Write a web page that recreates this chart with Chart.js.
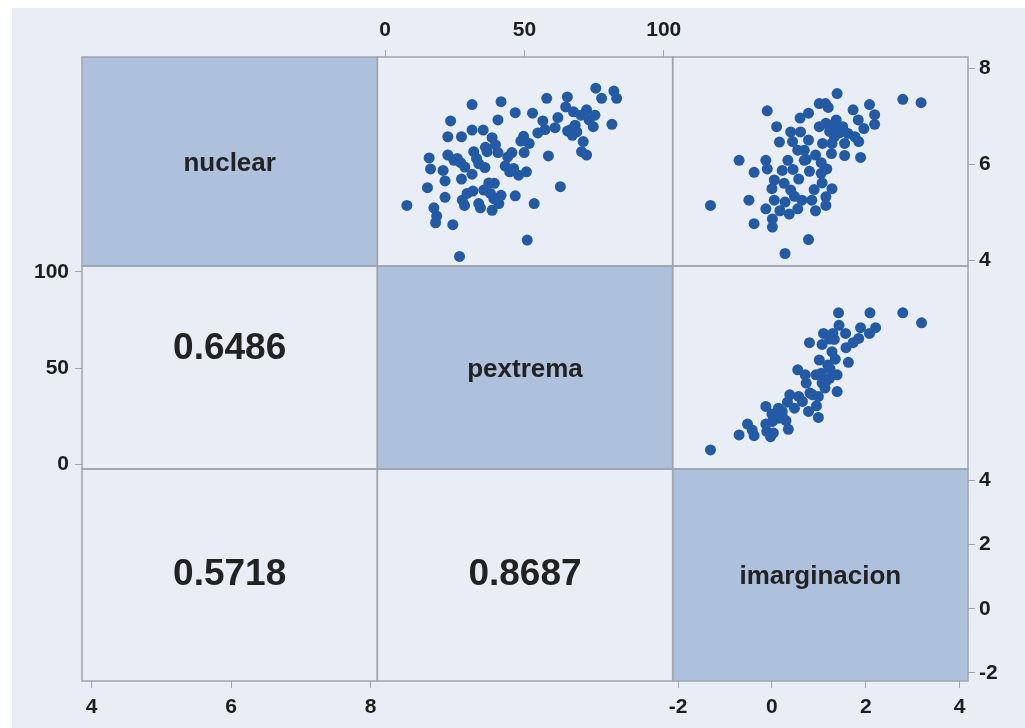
<!DOCTYPE html>
<html>
<head>
<meta charset="utf-8">
<script src="https://cdn.jsdelivr.net/npm/chart.js@4.4.1/dist/chart.umd.min.js"></script>
<style>
  html, body { margin: 0; padding: 0; background: #fff; }
  #wrap { width: 1025px; height: 728px; position: relative; }
</style>
</head>
<body>
<div id="wrap"><canvas id="matrix"></canvas></div>
<script>
const variables = ['nuclear', 'pextrema', 'imarginacion'];
// lower triangle: (pextrema, nuclear), (imarginacion, nuclear), (imarginacion, pextrema)
const correlations = ['0.6486', '0.5718', '0.8687'];

const nuclearTicks = [4, 6, 8];
const pextremaTicks = [0, 50, 100];
const imarginacionTicks = [-2, 0, 2, 4];

// [x, y] pairs
const pextremaNuclear = [
  [7.8,5.14],[15.2,5.51],[15.8,6.13],[16.3,5.90],[17.5,5.09],[18.5,4.92],[18.1,4.78],[20.8,5.87],[21.5,5.65],[21.5,5.31],
  [22.5,6.57],[22.5,6.19],[23.5,6.90],[24.3,4.74],[24.7,6.08],[25.9,6.12],[27.1,6.03],[27.4,5.69],[27.4,6.57],[28.6,5.94],
  [26.7,4.08],[27.7,5.25],[28.5,5.14],[29.4,5.39],[31.2,7.24],[31.2,6.71],[31.2,5.79],[31.5,5.44],[31.8,6.26],[32.8,6.12],
  [33.6,6.01],[33.6,5.18],[34.2,5.09],[35.2,6.71],[35.4,5.46],[35.8,5.93],[36.0,6.35],[36.6,6.26],[37.2,5.61],[37.8,5.39],
  [38.4,6.55],[39.0,5.28],[39.2,5.60],[39.6,6.40],[40.5,6.92],[40.5,6.24],[40.8,5.18],[38.4,5.04],[41.6,7.30],[41.6,5.35],
  [43.1,5.96],[44.0,6.15],[44.7,5.84],[45.5,6.24],[46.1,5.91],[46.7,7.07],[46.7,5.34],[47.9,5.77],[48.7,6.48],[49.7,6.58],
  [49.9,6.24],[50.7,5.84],[51.7,6.43],[51.0,4.42],[52.9,7.06],[53.5,5.18],[54.8,6.65],[56.6,6.90],[57.4,6.72],[58.0,7.37],
  [58.6,6.17],[61.0,6.76],[62.0,6.97],[62.9,5.53],[64.8,7.19],[65.4,7.40],[65.5,6.69],[66.7,6.72],[67.2,6.60],[67.6,7.09],
  [68.2,6.81],[68.8,6.67],[70.3,7.02],[70.5,6.26],[71.1,6.47],[72.3,7.13],[72.3,6.19],[73.2,6.92],[74.7,6.78],[75.3,7.02],
  [75.6,7.58],[77.7,7.37],[81.4,6.83],[82.1,7.52],[83.1,7.37]
];

const imarginacionNuclear = [
  [-1.31,5.14],[-0.70,6.08],[-0.49,5.25],[-0.38,5.83],[-0.38,4.76],[-0.13,6.08],[-0.10,7.11],[-0.10,5.90],[-0.13,5.07],[0.00,5.49],
  [0.01,4.86],[0.01,4.69],[0.05,5.25],[0.05,5.67],[0.10,6.78],[0.16,6.46],[0.17,5.03],[0.22,5.87],[0.26,5.60],[0.28,5.21],
  [0.28,4.14],[0.34,6.08],[0.37,4.96],[0.40,6.67],[0.40,5.46],[0.44,6.47],[0.45,5.89],[0.48,5.33],[0.55,6.29],[0.55,5.07],
  [0.57,5.69],[0.60,6.96],[0.61,6.67],[0.64,5.25],[0.69,6.29],[0.73,6.10],[0.78,7.06],[0.78,6.50],[0.78,4.43],[0.80,5.85],
  [0.85,5.25],[0.90,5.47],[0.93,6.19],[0.93,5.03],[1.01,7.26],[1.01,6.78],[1.05,5.81],[1.05,6.03],[1.07,5.61],[1.08,6.43],
  [1.14,7.26],[1.15,6.85],[1.17,5.90],[1.15,5.32],[1.15,5.14],[1.20,7.18],[1.23,6.68],[1.27,6.22],[1.28,6.43],[1.28,5.49],
  [1.33,6.57],[1.37,6.92],[1.39,7.47],[1.40,6.71],[1.51,6.78],[1.55,6.43],[1.55,6.18],[1.62,6.64],[1.73,7.13],[1.77,6.57],
  [1.84,6.92],[1.85,6.47],[1.89,6.14],[1.96,6.74],[2.08,7.24],[2.19,7.03],[2.19,6.83],[2.79,7.35],[3.18,7.28],[1.23,6.81],
  [1.44,6.65],[1.30,6.74],[0.69,6.08]
];

const imarginacionPextrema = [
  [-1.31,7.6],[-0.70,15.4],[-0.52,21.0],[-0.42,17.9],[-0.38,15.0],[-0.13,30.2],[-0.13,21.0],[-0.11,17.2],[-0.03,14.5],[0.03,16.4],
  [0.00,26.2],[0.14,29.3],[0.15,24.1],[0.22,25.0],[0.30,22.8],[0.35,18.3],[0.33,32.4],[0.38,36.2],[0.48,29.3],[0.55,49.2],
  [0.57,35.4],[0.65,32.8],[0.71,46.6],[0.73,42.3],[0.78,27.6],[0.81,37.1],[0.80,63.3],[0.95,30.5],[0.99,24.5],[0.99,35.4],
  [0.94,46.6],[1.01,54.3],[1.05,47.4],[1.07,42.3],[1.07,62.4],[1.10,68.1],[1.13,39.7],[1.19,51.7],[1.23,65.2],[1.24,49.7],
  [1.28,58.6],[1.30,68.1],[1.33,65.0],[1.35,54.7],[1.39,46.6],[1.39,37.9],[1.42,78.8],[1.43,72.3],[1.57,68.1],[1.58,60.7],
  [1.63,53.1],[1.73,63.3],[1.85,65.5],[1.89,71.1],[2.08,68.1],[2.09,78.8],[2.21,71.1],[2.79,78.8],[3.19,73.6],[1.15,43.1],
  [1.23,44.8],[0.87,36.2],[0.01,22.4],[0.22,27.6]
];

const toPoints = pairs => pairs.map(([x, y]) => ({ x, y }));

const tickFont = { family: "'Liberation Sans', Arial, sans-serif", size: 21, weight: 'bold' };
const gridStyle = { display: true, drawOnChartArea: false, drawTicks: true, tickLength: 7, color: '#9ea2a9', lineWidth: 1 };

// build one axis of the stacked matrix layout; axes without ticks are just placeholders
const axis = (position, stack, weight, stackWeight, size, range, ticks, padding) => {
  const opts = {
    type: 'linear',
    position, stack, weight, stackWeight,
    display: !!ticks,
    border: { display: false },
    grid: gridStyle,
    afterFit: scale => {
      if (scale.isHorizontal()) scale.height = size; else scale.width = size;
    }
  };
  if (ticks) {
    opts.min = range[0];
    opts.max = range[1];
    opts.afterBuildTicks = scale => { scale.ticks = ticks.map(v => ({ value: v })); };
    opts.ticks = { font: tickFont, color: '#1e1e1e', padding: padding, autoSkip: false, maxRotation: 0, minRotation: 0 };
  }
  return opts;
};

const rowWeights = [209, 203, 212];

const scales = {
  // columns, bottom
  xN:  axis('bottom', 'colsB', 0, 1, 47, [3.864, 8.096], nuclearTicks, 7),
  xPb: axis('bottom', 'colsB', 1, 1, 47),
  xI:  axis('bottom', 'colsB', 2, 1, 47, [-2.116, 4.18], imarginacionTicks, 7),
  // columns, top
  xNt: axis('top', 'colsT', 2, 1, 57),
  xP:  axis('top', 'colsT', 1, 1, 57, [-2.8, 103.2], pextremaTicks, 7),
  xIt: axis('top', 'colsT', 0, 1, 57),
  // rows, left
  yNl: axis('left', 'rowsL', 2, rowWeights[0], 82),
  yP:  axis('left', 'rowsL', 1, rowWeights[1], 82, [-2.3, 103.1], pextremaTicks, 6),
  yIl: axis('left', 'rowsL', 0, rowWeights[2], 82),
  // rows, right
  yN:  axis('right', 'rowsR', 0, rowWeights[0], 57, [3.88, 8.23], nuclearTicks, 4),
  yPr: axis('right', 'rowsR', 1, rowWeights[1], 57),
  yI:  axis('right', 'rowsR', 2, rowWeights[2], 57, [-2.25, 4.36], imarginacionTicks, 4)
};

const pointStyle = { pointRadius: 5.5, pointHoverRadius: 5.5, pointBackgroundColor: '#235aa8', pointBorderWidth: 0 };

// backgrounds, cell frames, variable names and correlations
const matrixFrame = {
  id: 'matrixFrame',
  beforeDraw(chart) {
    const { ctx, scales: s } = chart;
    const cols = [s.xN, s.xP, s.xI].map(a => [a.left, a.right]);
    const rows = [s.yN, s.yP, s.yI].map(a => [a.top, a.bottom]);
    ctx.save();
    ctx.fillStyle = '#e9edf5';
    ctx.fillRect(12, 8, chart.width - 12, chart.height - 8);

    ctx.fillStyle = '#adc1dd';
    for (let i = 0; i < 3; i++) {
      ctx.fillRect(cols[i][0], rows[i][0], cols[i][1] - cols[i][0], rows[i][1] - rows[i][0]);
    }

    ctx.strokeStyle = '#a0a4ab';
    ctx.lineWidth = 1.5;
    for (let r = 0; r < 3; r++) {
      for (let c = 0; c < 3; c++) {
        ctx.strokeRect(cols[c][0], rows[r][0], cols[c][1] - cols[c][0], rows[r][1] - rows[r][0]);
      }
    }

    const mid = (a) => (a[0] + a[1]) / 2;
    ctx.fillStyle = '#222';
    ctx.textAlign = 'center';
    ctx.textBaseline = 'middle';
    ctx.font = "bold 26px 'Liberation Sans', Arial, sans-serif";
    variables.forEach((name, i) => ctx.fillText(name, mid(cols[i]), mid(rows[i]) + 2));

    ctx.font = "bold 37px 'Liberation Sans', Arial, sans-serif";
    const corrCells = [[1, 0, -19], [2, 0, 0], [2, 1, 0]];
    correlations.forEach((txt, k) => {
      const [r, c, dy] = corrCells[k];
      ctx.fillText(txt, mid(cols[c]), mid(rows[r]) + dy);
    });
    ctx.restore();
  }
};

new Chart(document.getElementById('matrix').getContext('2d'), {
  type: 'scatter',
  data: {
    datasets: [
      { label: 'pextrema x nuclear', data: toPoints(pextremaNuclear), xAxisID: 'xP', yAxisID: 'yN', ...pointStyle },
      { label: 'imarginacion x nuclear', data: toPoints(imarginacionNuclear), xAxisID: 'xI', yAxisID: 'yN', ...pointStyle },
      { label: 'imarginacion x pextrema', data: toPoints(imarginacionPextrema), xAxisID: 'xI', yAxisID: 'yP', ...pointStyle }
    ]
  },
  options: {
    responsive: true,
    maintainAspectRatio: false,
    animation: false,
    layout: { padding: 0, autoPadding: false },
    plugins: { legend: { display: false }, tooltip: { enabled: false } },
    scales: scales
  },
  plugins: [matrixFrame]
});
</script>
</body>
</html>
